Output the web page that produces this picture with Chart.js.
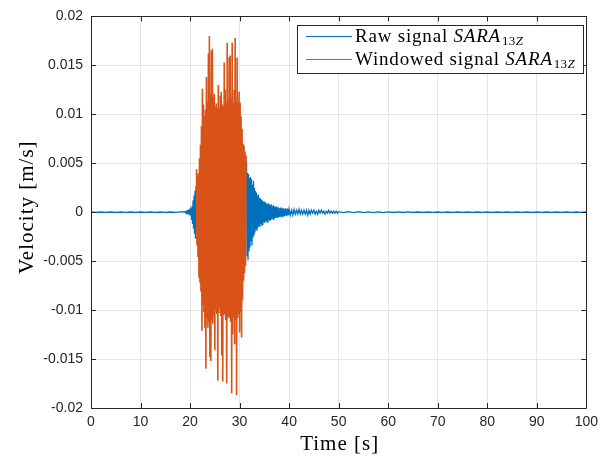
<!DOCTYPE html>
<html>
<head>
<meta charset="utf-8">
<script src="https://cdn.jsdelivr.net/npm/chart.js@4.4.0/dist/chart.umd.min.js"></script>
<style>
  body { margin: 0; background: #fff; }
  #wrap { width: 604px; height: 459px; }
</style>
</head>
<body>
<div id="wrap"><canvas id="sismo" width="604" height="459"></canvas></div>
<script>
// eixos
const xTickValues = [0, 10, 20, 30, 40, 50, 60, 70, 80, 90, 100];
const yTickValues = [-0.02, -0.015, -0.01, -0.005, 0, 0.005, 0.01, 0.015, 0.02];
const yTickLabels = ['-0.02', '-0.015', '-0.01', '-0.005', '0', '0.005', '0.01', '0.015', '0.02'];

const serieLabels = ['Raw signal', 'Windowed signal'];
const estacao = { name: 'SARA', sub: '13', comp: 'Z' };
const xTitulo = 'Time [s]';
const yTitulo = 'Velocity [m/s]';

// sinal bruto, por trechos (inicio [s], intervalo de amostra [s], valores [m/s])
const rawPreStart = 0, rawPreDt = 1;
const rawPre = [0.00002, -0.00002, 0.00002, -0.00002, 0.00002, -0.00002, 0.00002, -0.00002, 0.00002, -0.00002,
  0.00002, -0.00002, 0.00002, -0.00002, 0.00002, -0.00002, 0.00002, -0.00002, 0.00003];

const rawOnsetStart = 19.0, rawOnsetDt = 0.1;
const rawOnset = [0.00005, -0.00005, 0.00006, -0.00006, 0.00008, -0.00008, 0.0001, -0.0001, 0.0001, -0.0001,
  0.0002, -0.0003, 0.0004, -0.0008, 0.0006, -0.0012, 0.0012, -0.0017, 0.0017, -0.0022, 0.0022, -0.0027, 0.0027];

const rawStrongStart = 21.5, rawStrongDt = 0.5;
const rawStrong = [-0.0030, 0.0050, -0.0080, 0.0090, -0.0095, 0.0095, -0.0095, 0.0095, -0.0095, 0.0095,
  -0.0095, 0.0095, -0.0095, 0.0095, -0.0095, 0.0095, -0.0095, 0.0090, -0.0060, 0.0040];

const rawCodaStart = 31.4, rawCodaDt = 0.1;
const rawCoda = [0.0052, -0.0045, 0.0040, -0.0049, 0.0039, -0.0040, 0.0035, -0.0036, 0.0036, -0.0030,
  0.0034, -0.0034, 0.0028, -0.0026, 0.0032, -0.0024, 0.0025, -0.0021, 0.0022, -0.0018,
  0.0020, -0.0019, 0.0017, -0.0016, 0.0018, -0.0014, 0.0015, -0.0015, 0.0014, -0.0012,
  0.0013, -0.0014, 0.0012, -0.0013, 0.0011, -0.0010, 0.0011, -0.0011, 0.0010, -0.0009,
  0.0009, -0.0010, 0.0008, -0.0011, 0.0009, -0.0008, 0.0008, -0.0009, 0.0007, -0.0008,
  0.0008, -0.0007, 0.0006, -0.0007, 0.0007, -0.0008, 0.0006, -0.0006, 0.0005, -0.0006,
  0.0006, -0.0005, 0.0005, -0.0006, 0.0005, -0.0005, 0.0004, -0.0005, 0.0004, -0.0005,
  0.0005, -0.0004, 0.0004, -0.0005, 0.0004, -0.0004, 0.0003, -0.0004, 0.0004, -0.0003,
  0.0003, -0.0004, 0.0004, -0.0003, 0.0003, -0.0003];

const rawTailStart = 40, rawTailDt = 0.25;
const rawTail = [0.0003, -0.0003, 0.0002, -0.0003, 0.0003, -0.0002, 0.0002, -0.0002, 0.0003, -0.0002,
  0.0002, -0.0002, 0.0002, -0.0002, 0.0002, -0.0003, 0.0002, -0.0002, 0.0002, -0.0001,
  0.0002, -0.0002, 0.0001, -0.0002, 0.0002, -0.0001, 0.0002, -0.0001, 0.0001, -0.0002,
  0.0001, -0.0001, 0.0002, -0.0001, 0.0001, -0.0001, 0.0001, -0.0001, 0.0001, -0.0001];

const rawEndStart = 50, rawEndDt = 1;
const rawEnd = [0.00005, -0.00005, 0.00005, -0.00005, 0.00005, -0.00005, 0.00004, -0.00004, 0.00004, -0.00004,
  0.00003, -0.00003, 0.00003, -0.00003, 0.00003, -0.00003, 0.00002, -0.00002, 0.00002, -0.00002,
  0.00002, -0.00002, 0.00002, -0.00002, 0.00002, -0.00002, 0.00002, -0.00002, 0.00002, -0.00002,
  0.00002, -0.00002, 0.00002, -0.00002, 0.00002, -0.00002, 0.00002, -0.00002, 0.00002, -0.00002,
  0.00002, -0.00002, 0.00002, -0.00002, 0.00002, -0.00002, 0.00002, -0.00002, 0.00002, -0.00002, 0.00002];

// sinal janelado (21.3 s a 31.3 s)
const winStart = 21.3, winDt = 0.1;
const winVel = [0.0044, -0.0034, 0.0038, -0.0046, 0.0040, -0.0067, 0.0055, -0.0072, 0.0069, -0.0081,
  0.0088, -0.0121, 0.0126, -0.0095, 0.0110, -0.0102, 0.0098, -0.0118, 0.0105, -0.0160,
  0.0138, -0.0108, 0.0112, -0.0118, 0.0162, -0.0112, 0.0180, -0.0148, 0.0120, -0.0152,
  0.0165, -0.0110, 0.0167, -0.0114, 0.0118, -0.0106, 0.0121, -0.0141, 0.0108, -0.0101,
  0.0111, -0.0104, 0.0106, -0.0172, 0.0130, -0.0103, 0.0107, -0.0098, 0.0119, -0.0106,
  0.0123, -0.0146, 0.0110, -0.0173, 0.0108, -0.0105, 0.0153, -0.0104, 0.0125, -0.0110,
  0.0112, -0.0175, 0.0173, -0.0108, 0.0115, -0.0106, 0.0158, -0.0108, 0.0160, -0.0112,
  0.0117, -0.0185, 0.0173, -0.0125, 0.0112, -0.0108, 0.0125, -0.0135, 0.0178, -0.0110,
  0.0114, -0.0187, 0.0158, -0.0108, 0.0112, -0.0104, 0.0123, -0.0123, 0.0112, -0.0102,
  0.0098, -0.0128, 0.0085, -0.0090, 0.0070, -0.0070, 0.0068, -0.0062, 0.0062, -0.0055, 0.0058];

function trecho(t0, dt, valores) {
  return valores.map((v, i) => ({ x: +(t0 + i * dt).toFixed(3), y: v }));
}

const rawData = [].concat(
  trecho(rawPreStart, rawPreDt, rawPre),
  trecho(rawOnsetStart, rawOnsetDt, rawOnset),
  trecho(rawStrongStart, rawStrongDt, rawStrong),
  trecho(rawCodaStart, rawCodaDt, rawCoda),
  trecho(rawTailStart, rawTailDt, rawTail),
  trecho(rawEndStart, rawEndDt, rawEnd)
);
const winData = trecho(winStart, winDt, winVel);

const corAzul = '#0072BD';
const corLaranja = '#D95319';
const corTexto = '#262626';
const fonteSerif = '"Liberation Serif", serif';

// caixa, marcas para dentro e titulos dos eixos (estilo MATLAB)
const caixaPlugin = {
  id: 'caixa',
  afterDatasetsDraw(chart) {
    const { ctx, chartArea: a, scales } = chart;
    ctx.save();
    ctx.strokeStyle = corTexto;
    ctx.lineWidth = 1;
    ctx.beginPath();
    ctx.rect(Math.round(a.left) + 0.5, Math.round(a.top) + 0.5, Math.round(a.right - a.left), Math.round(a.bottom - a.top));
    const tl = 5;
    xTickValues.forEach(v => {
      const px = Math.round(scales.x.getPixelForValue(v)) + 0.5;
      ctx.moveTo(px, a.bottom); ctx.lineTo(px, a.bottom - tl);
      ctx.moveTo(px, a.top); ctx.lineTo(px, a.top + tl);
    });
    yTickValues.forEach(v => {
      const py = Math.round(scales.y.getPixelForValue(v)) + 0.5;
      ctx.moveTo(a.left, py); ctx.lineTo(a.left + tl, py);
      ctx.moveTo(a.right, py); ctx.lineTo(a.right - tl, py);
    });
    ctx.stroke();

    ctx.fillStyle = '#000';
    ctx.font = '21px ' + fonteSerif;
    ctx.letterSpacing = '1px';
    ctx.textAlign = 'center';
    ctx.textBaseline = 'alphabetic';
    ctx.fillText(xTitulo, (a.left + a.right) / 2 + 1, 450);
    ctx.translate(33, (a.top + a.bottom) / 2 - 5);
    ctx.rotate(-Math.PI / 2);
    ctx.fillText(yTitulo, 0, 0);
    ctx.restore();
  }
};

// legenda com subscrito
const legendaPlugin = {
  id: 'legendaSub',
  afterDraw(chart) {
    const ctx = chart.ctx;
    const x0 = 297, y0 = 25, w = 286, h = 48;
    ctx.save();
    ctx.fillStyle = '#fff';
    ctx.fillRect(x0, y0, w, h);
    ctx.strokeStyle = corTexto;
    ctx.lineWidth = 1;
    ctx.strokeRect(x0 + 0.5, y0 + 0.5, w, h);
    const linhas = [36.5, 59.5];
    const cores = [corAzul, corLaranja];
    linhas.forEach((ly, i) => {
      ctx.strokeStyle = cores[i];
      ctx.beginPath();
      ctx.moveTo(306, ly); ctx.lineTo(352, ly);
      ctx.stroke();
      let x = 355;
      ctx.fillStyle = '#000';
      ctx.textBaseline = 'alphabetic';
      ctx.letterSpacing = '0.8px';
      const base = ly + 5.5;
      ctx.font = '19px ' + fonteSerif;
      const txt = serieLabels[i] + ' ';
      ctx.fillText(txt, x, base); x += ctx.measureText(txt).width;
      ctx.font = 'italic 19px ' + fonteSerif;
      ctx.fillText(estacao.name, x, base); x += ctx.measureText(estacao.name).width + 1;
      ctx.font = '13px ' + fonteSerif;
      ctx.letterSpacing = '0.3px';
      ctx.fillText(estacao.sub, x, base + 3); x += ctx.measureText(estacao.sub).width;
      ctx.font = 'italic 13px ' + fonteSerif;
      ctx.fillText(estacao.comp, x, base + 3);
    });
    ctx.restore();
  }
};

new Chart(document.getElementById('sismo'), {
  type: 'line',
  data: {
    datasets: [
      { label: serieLabels[1], data: winData, order: 0, borderColor: corLaranja, borderWidth: 1.6, borderDash: [100000, 0], pointRadius: 0, tension: 0 },
      { label: serieLabels[0], data: rawData, order: 1, borderColor: corAzul, borderWidth: 1.3, borderDash: [100000, 0], pointRadius: 0, tension: 0 }
    ]
  },
  options: {
    responsive: false,
    animation: false,
    parsing: false,
    normalized: true,
    layout: { padding: { top: 12, right: 12, left: 0, bottom: 0 } },
    plugins: {
      legend: { display: false },
      tooltip: { enabled: false }
    },
    scales: {
      x: {
        type: 'linear',
        min: 0, max: 100,
        afterBuildTicks: s => { s.ticks = xTickValues.map(v => ({ value: v })); },
        afterFit: s => { s.height = 51; },
        grid: { color: '#e6e6e6', drawTicks: false },
        border: { display: false },
        ticks: {
          color: corTexto, padding: 6,
          font: { family: '"Liberation Sans", Arial, sans-serif', size: 14 },
          maxRotation: 0,
          callback: v => String(v)
        }
      },
      y: {
        type: 'linear',
        min: -0.02, max: 0.02,
        afterBuildTicks: s => { s.ticks = yTickValues.map(v => ({ value: v })); },
        afterFit: s => { s.width = 91; },
        grid: { color: '#e6e6e6', drawTicks: false },
        border: { display: false },
        ticks: {
          color: corTexto, padding: 8,
          font: { family: '"Liberation Sans", Arial, sans-serif', size: 14 },
          callback: (v, i) => yTickLabels[i]
        }
      }
    }
  },
  plugins: [caixaPlugin, legendaPlugin]
});
</script>
</body>
</html>
